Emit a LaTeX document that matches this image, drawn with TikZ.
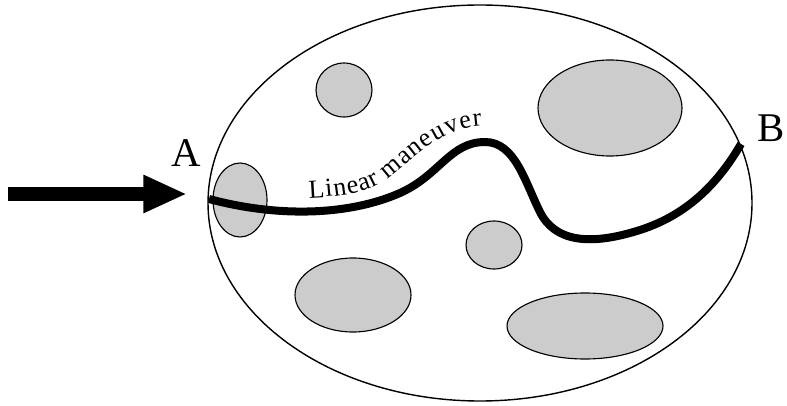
\documentclass[tikz,border=0pt]{standalone}
\usepackage{fontspec}
\setmainfont{Liberation Serif}
\usetikzlibrary{arrows.meta, decorations.text}

\tikzset{
    blob/.style={draw, fill=black!20, line width=0.8pt},
    pointlabel/.style={font=\fontsize{29}{32}\selectfont, inner sep=0pt}
}

\begin{document}
\begin{tikzpicture}[x=0.025cm, y=-0.025cm]
        \useasboundingbox (0,0) rectangle (787,406);

        % Main Region
        \draw[line width=1pt] (480,203) ellipse [x radius=272, y radius=198];

        % Obstacles
        \draw[blob] (344,90) ellipse [x radius=28, y radius=27];
        \draw[blob] (610,108) ellipse [x radius=72, y radius=48];
        \draw[blob] (240,200) ellipse [x radius=27, y radius=37];
        \draw[blob] (494,245) ellipse [x radius=28, y radius=24];
        \draw[blob] (353,295) ellipse [x radius=58, y radius=37];
        \draw[blob] (585,326) ellipse [x radius=78, y radius=33];

        % End Points
        \coordinate (start) at (209,199);
        \coordinate (goal) at (741,144);
        \node[pointlabel] (A) at (186,153) {A};
        \node[pointlabel] (B) at (771,128) {B};

        % Trajectory
        \draw[line width=5.7pt] (start) .. controls (280,218) and (350,215) .. (400,193)
            .. controls (440,175) and (450,142) .. (485,142)
            .. controls (515,142) and (525,182) .. (540,212)
            .. controls (555,242) and (590,246) .. (640,230)
            .. controls (690,214) and (720,180) .. (goal);

        % Label along the trajectory
        \path[decorate, decoration={text along path,
                text align={fit to path},
                text={|\fontsize{18.5}{21}\selectfont|Linear maneuver}}]
            (309,198) .. controls (350,196) and (370,192) .. (390,177)
            .. controls (410,162) and (440,128) .. (482,126);

        % Entry Arrow
        \coordinate (tail) at (8,194);
        \coordinate (tip) at (187,194);
        \draw[line width=10pt, -{Triangle[length=31pt, width=25pt]}] (tail) -- (tip);

    \end{tikzpicture}
\end{document}
